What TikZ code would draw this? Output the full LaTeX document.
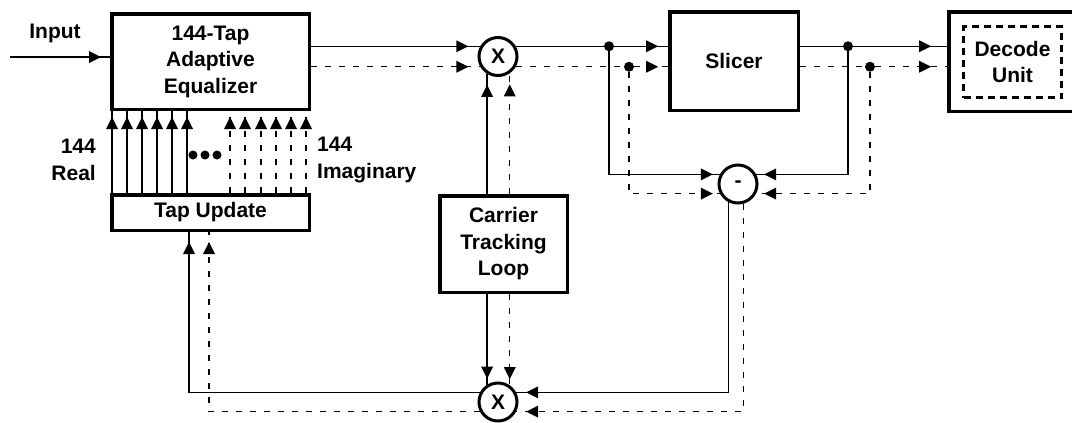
\documentclass[tikz,border=0pt]{standalone}
\usepackage{fontspec}
\setmainfont{Liberation Sans}
\usetikzlibrary{arrows.meta,decorations.markings,calc}
\begin{document}
\begin{tikzpicture}[x=1pt,y=-1pt,
  font=\fontsize{21}{26.5}\selectfont\bfseries,
  box/.style={draw,line width=3.5pt,inner sep=0pt,align=center},
  sumnode/.style={draw,circle,line width=3pt,minimum size=38pt,inner sep=0pt},
  wire/.style={line width=1.3pt},
  dwire/.style={wire,dash pattern=on 6pt off 8pt},
  arrat/.style={postaction={decorate,decoration={markings,mark=at position -#1 with {\fill (1pt,0pt) -- (-11pt,6pt) -- (-11pt,-6pt) -- cycle;}}}},
  dot/.style={circle,fill,inner sep=0pt,minimum size=10pt},
  bullet/.style={circle,fill,inner sep=0pt,minimum size=9pt},
  lbl/.style={inner sep=0pt},
]
\useasboundingbox (0,0) rectangle (1072,423);

% blocks
\node[box,minimum width=197.5pt,minimum height=95.5pt] (eq) at (210.5,61.5) {144-Tap\\Adaptive\\Equalizer};
\node[box,minimum width=197.5pt,minimum height=35.5pt] (tap) at (210.5,212.5) {Tap Update};
\node[box,minimum width=128.5pt,minimum height=98.5pt] (slicer) at (734,61) {Slicer};
\node[box,minimum width=129.5pt,minimum height=99.5pt] (decode) at (1013.5,61.5) {};
\node[draw,line width=3pt,dash pattern=on 7pt off 5pt,inner sep=0pt,align=center,
      minimum width=98pt,minimum height=71pt] (decin) at (1012.5,62) {Decode\\Unit};
\node[box,minimum width=127.5pt,minimum height=96.5pt] (ctl) at (503.5,244) {Carrier\\Tracking\\Loop};
\node[sumnode] (mx1) at (498,56.5) {X};
\node[sumnode] (sub) at (738,184) {-};
\node[sumnode] (mx2) at (498,402) {X};

% labels
\node[lbl] (lin) at (55,33) {Input};
\node[lbl,align=right,anchor=east] (lreal) at (96,160) {144\\Real};
\node[lbl,align=left,anchor=west] (limg) at (317,160) {144\\Imaginary};
\node[bullet] (d1) at (193,155) {};
\node[bullet] (d2) at (205,155) {};
\node[bullet] (d3) at (217,155) {};

% input
\coordinate (inp) at (10,57);
\draw[wire,arrat=10pt] (inp) -- (inp -| eq.west);

% tap lines
\foreach \dx in {-98.5,-83.5,-68.5,-53.5,-38.5,-23.5}
  \draw[wire,arrat=7pt] ([xshift=\dx pt]tap.north) -- ([xshift=\dx pt]eq.south);
\foreach \dx in {19.5,34.5,50.5,65.5,80.5,95.5}
  \draw[dwire,arrat=7pt] ([xshift=\dx pt]tap.north) -- ([xshift=\dx pt]eq.south);

% equalizer to mixer
\draw[wire,arrat=13pt] (eq.east |- mx1.150) -- (mx1.150);
\draw[dwire,arrat=13pt] (eq.east |- mx1.210) -- (mx1.210);

% junctions
\coordinate (c1) at (609,0);
\coordinate (c2) at (629,0);
\coordinate (c3) at (848,0);
\coordinate (c4) at (870,0);
\node[dot] (j1) at (c1 |- mx1.30) {};
\node[dot] (j2) at (c2 |- mx1.330) {};
\node[dot] (j3) at (c3 |- mx1.30) {};
\node[dot] (j4) at (c4 |- mx1.330) {};

\draw[wire] (mx1.30) -- (j1);
\draw[dwire] (mx1.330) -- (j2);
\draw[wire,arrat=11pt] (j1) -- (slicer.west |- j1);
\draw[dwire,arrat=11pt] (j2) -- (slicer.west |- j2);
\draw[wire] (slicer.east |- j3) -- (j3);
\draw[dwire] (slicer.east |- j4) -- (j4);
\draw[wire,arrat=17pt] (j3) -- (decode.west |- j3);
\draw[dwire,arrat=17pt] (j4) -- (decode.west |- j4);

% to subtractor
\draw[wire,arrat=8pt] (j1) |- (sub.152);
\draw[dwire,arrat=8pt] (j2) |- (sub.208);
\draw[wire,arrat=9pt] (j3) |- (sub.28);
\draw[dwire,arrat=9pt] (j4) |- (sub.332);

% subtractor to lower mixer
\draw[wire,arrat=11pt] (sub.242) |- (mx2.28);
\draw[dwire,arrat=11pt] (sub.285) |- (mx2.332);

% carrier tracking loop
\draw[wire,arrat=12pt] (ctl.north -| mx1.238) -- (mx1.238);
\draw[dwire,arrat=12pt] (ctl.north -| mx1.305) -- (mx1.305);
\draw[wire,arrat=7pt] (ctl.south -| mx2.122) -- (mx2.122);
\draw[dwire,arrat=7pt] (ctl.south -| mx2.55) -- (mx2.55);

% lower mixer to tap update
\draw[wire,arrat=11pt] (mx2.152) -| ([xshift=-21.5pt]tap.south);
\draw[dwire,arrat=11pt] (mx2.208) -| ([xshift=-1.5pt]tap.south);
\end{tikzpicture}
\end{document}
